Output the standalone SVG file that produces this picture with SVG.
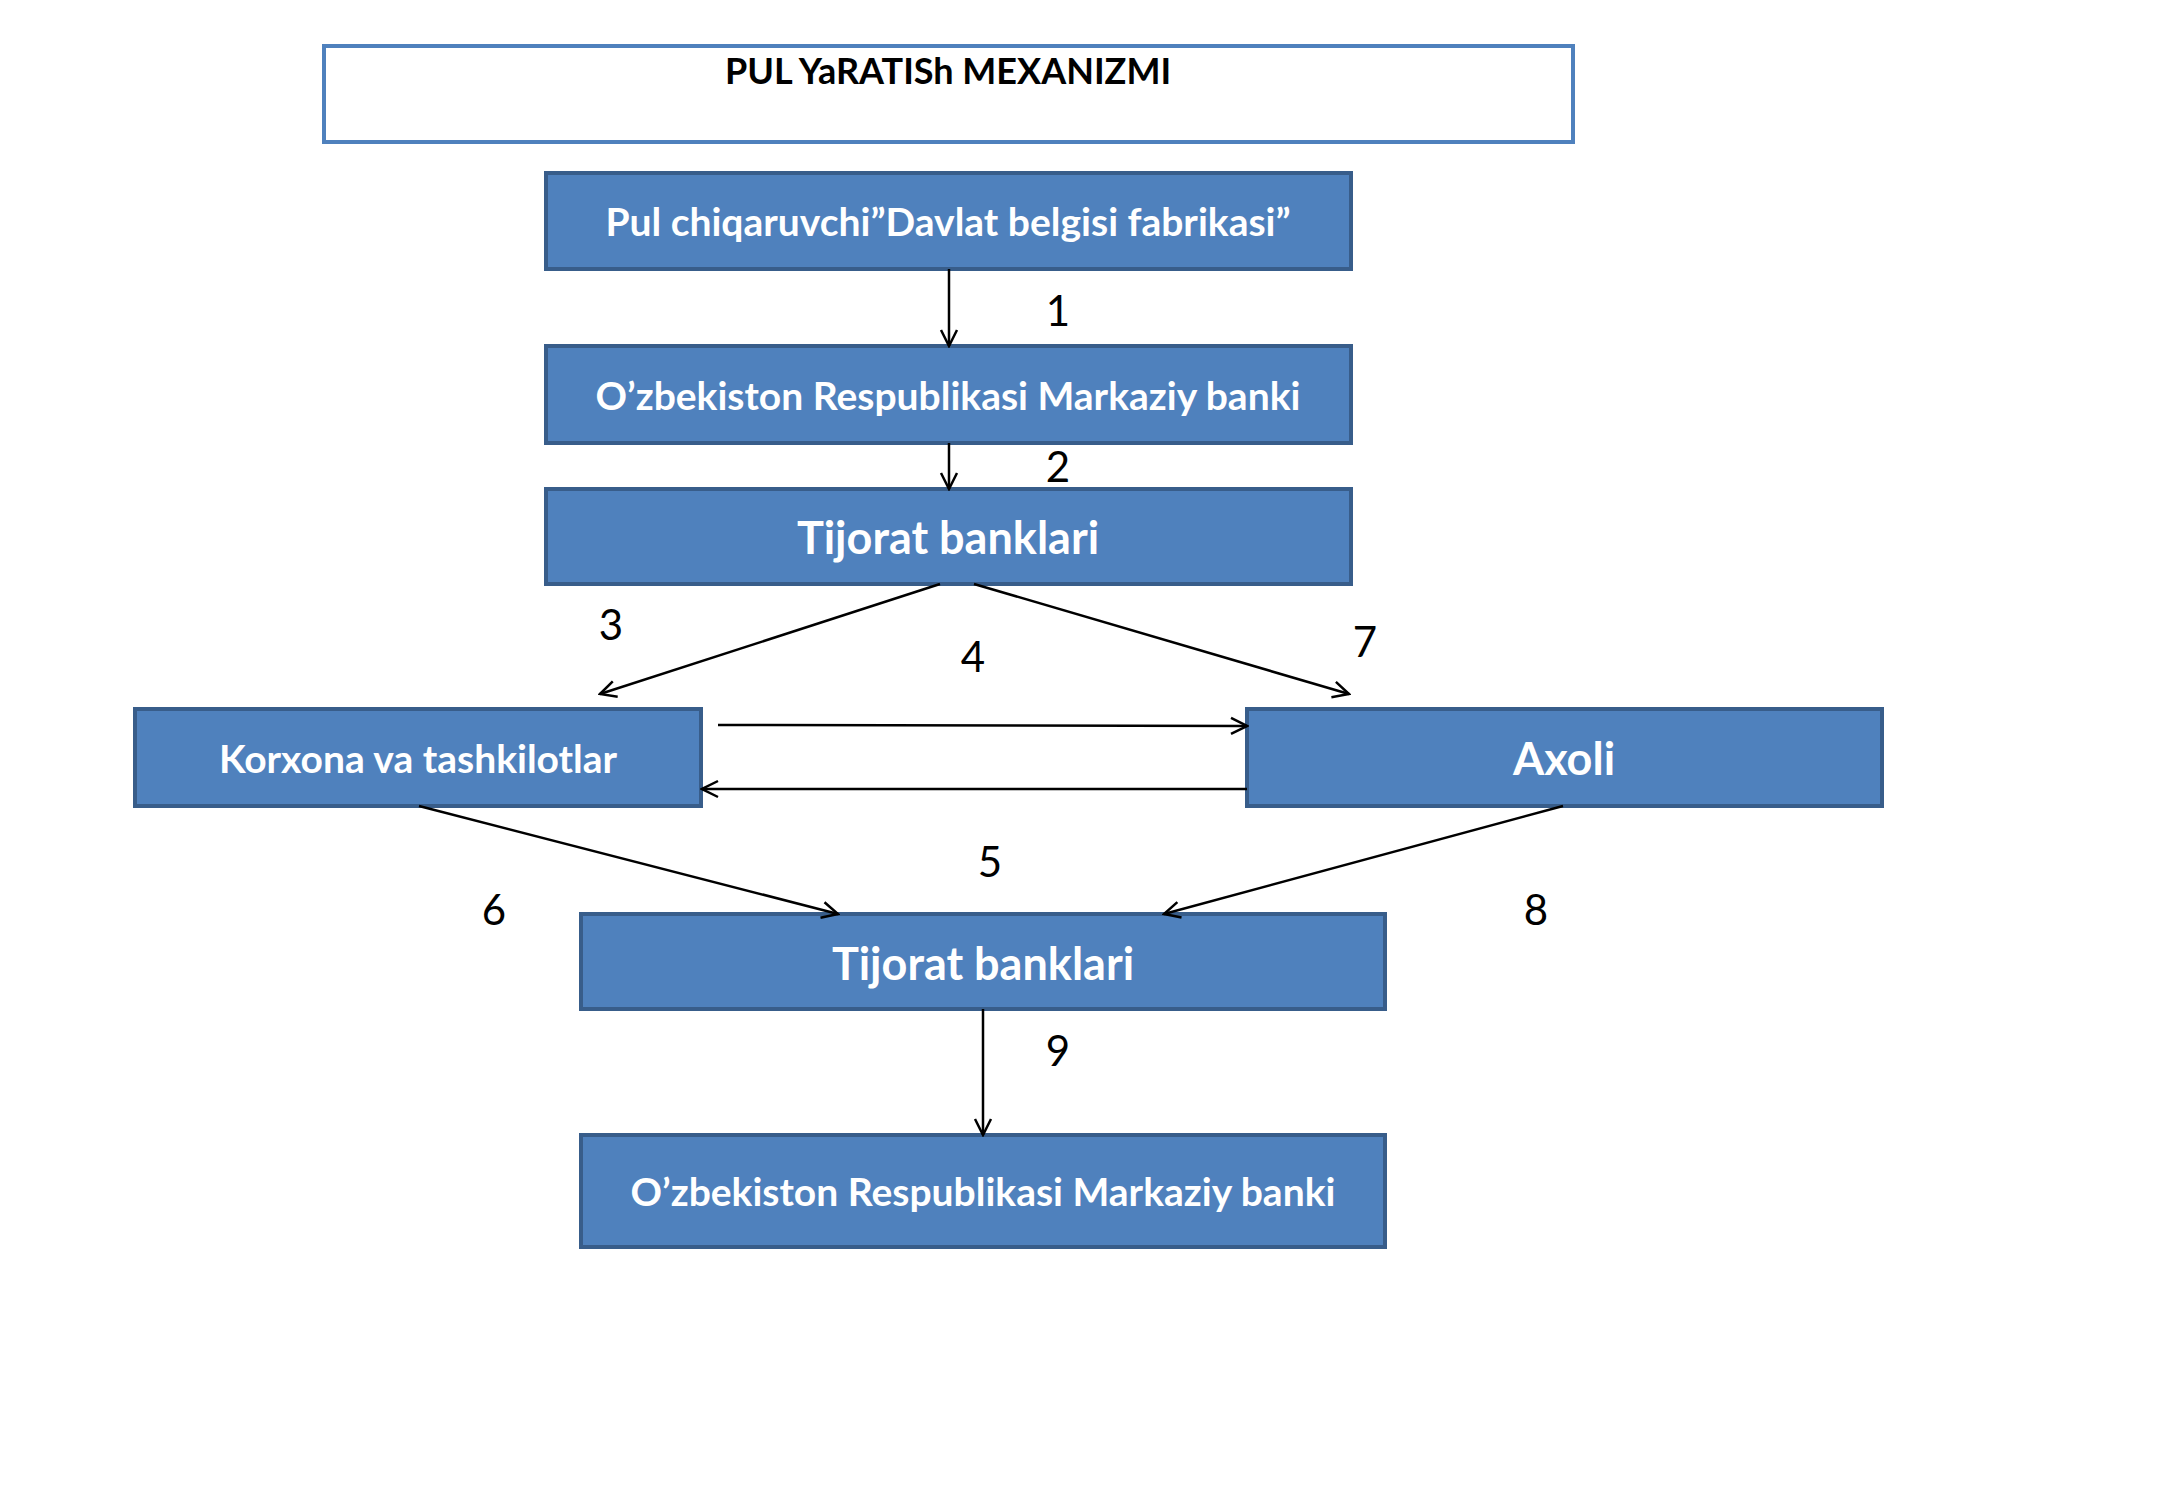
<svg xmlns="http://www.w3.org/2000/svg" width="2167" height="1500" viewBox="0 0 2167 1500">
<style>
.b{fill:#4f81bd;stroke:#385d8a;stroke-width:4}
.t{fill:#fff;font-family:Lato,"Open Sans",sans-serif;font-weight:bold;text-anchor:middle;dominant-baseline:central}
.c{stroke:#000;stroke-width:2.5;fill:none;marker-end:url(#a)}
.n{font-family:Lato,"Liberation Sans",sans-serif;font-size:42px;text-anchor:middle;dominant-baseline:central}
</style>
<defs><marker id="a" viewBox="0 0 20 20" refX="18" refY="10" markerWidth="20" markerHeight="20" markerUnits="userSpaceOnUse" orient="auto"><path d="M2,2 L18,10 L2,18" fill="none" stroke="#000" stroke-width="2.5"/></marker></defs>
<rect width="2167" height="1500" fill="#fff"/>
<g id="title"><rect x="324" y="46" width="1249" height="96" fill="#fff" stroke="#4f81bd" stroke-width="4"/><text x="948" y="70" font-family="Lato,'Open Sans',sans-serif" font-weight="bold" font-size="36" text-anchor="middle" dominant-baseline="central">PUL YaRATISh MEXANIZMI</text></g>
<g id="n1"><rect class="b" x="546" y="173" width="805" height="96"/><text class="t" x="948" y="221" font-size="39">Pul chiqaruvchi”Davlat belgisi fabrikasi”</text></g>
<g id="n2"><rect class="b" x="546" y="346" width="805" height="97"/><text class="t" x="948" y="395" font-size="39">O’zbekiston Respublikasi Markaziy banki</text></g>
<g id="n3"><rect class="b" x="546" y="489" width="805" height="95"/><text class="t" x="948" y="537" font-size="45">Tijorat banklari</text></g>
<g id="n4"><rect class="b" x="135" y="709" width="566" height="97"/><text class="t" x="418" y="758" font-size="39">Korxona va tashkilotlar</text></g>
<g id="n5"><rect class="b" x="1247" y="709" width="635" height="97"/><text class="t" x="1564" y="758" font-size="45">Axoli</text></g>
<g id="n6"><rect class="b" x="581" y="914" width="804" height="95"/><text class="t" x="983" y="963" font-size="45">Tijorat banklari</text></g>
<g id="n7"><rect class="b" x="581" y="1135" width="804" height="112"/><text class="t" x="983" y="1191" font-size="39">O’zbekiston Respublikasi Markaziy banki</text></g>
<g id="connectors">
<path class="c" d="M949,269 L949,346"/>
<path class="c" d="M949,443 L949,489"/>
<path class="c" d="M940,584 L600,694"/>
<path class="c" d="M974,584 L1349,694"/>
<path class="c" d="M718,725 L1247,726"/>
<path class="c" d="M1247,789 L702,789"/>
<path class="c" d="M419,806 L838,914"/>
<path class="c" d="M1563,806 L1164,914"/>
<path class="c" d="M983,1009 L983,1135"/>
</g>
<g id="labels">
<text class="n" x="1058" y="310">1</text>
<text class="n" x="1058" y="466">2</text>
<text class="n" x="611" y="624">3</text>
<text class="n" x="973" y="656">4</text>
<text class="n" x="1365" y="641">7</text>
<text class="n" x="990" y="861">5</text>
<text class="n" x="494" y="909">6</text>
<text class="n" x="1536" y="909">8</text>
<text class="n" x="1058" y="1050">9</text>
</g>
</svg>
